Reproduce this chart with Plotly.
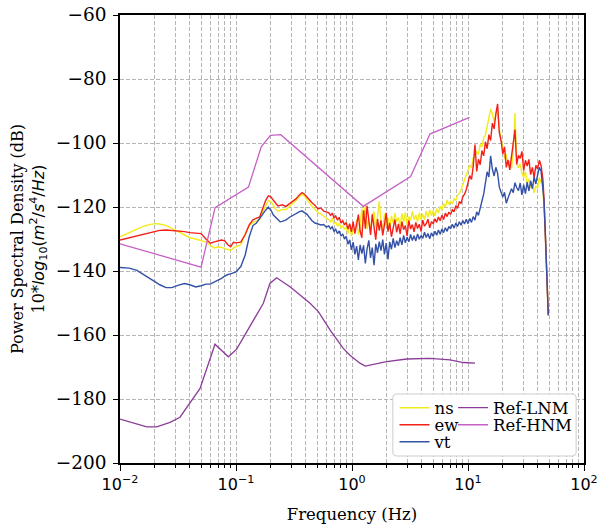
import plotly.graph_objects as go

# ---------------- data ----------------
freq_low = [0.01, 0.012, 0.014, 0.016, 0.018, 0.02, 0.022, 0.025, 0.028, 0.032,
            0.036, 0.04, 0.045, 0.05, 0.055, 0.06, 0.065, 0.07, 0.075, 0.08,
            0.085, 0.09, 0.095, 0.1, 0.11, 0.12, 0.13, 0.14, 0.15, 0.16,
            0.17, 0.18, 0.19, 0.2, 0.21, 0.22, 0.23, 0.24, 0.25, 0.27,
            0.29, 0.31, 0.33, 0.35, 0.37, 0.39, 0.41, 0.43, 0.45, 0.48,
            0.51, 0.54, 0.57, 0.6]

freq_high = [0.631, 0.653, 0.676, 0.700, 0.724, 0.750, 0.776, 0.804, 0.832, 0.861,
             0.891, 0.923, 0.955, 0.989, 1.023, 1.059, 1.096, 1.135, 1.175, 1.216,
             1.259, 1.303, 1.349, 1.396, 1.445, 1.496, 1.549, 1.603, 1.660, 1.718,
             1.778, 1.841, 1.905, 1.972, 2.042, 2.113, 2.188, 2.265, 2.344, 2.427,
             2.512, 2.600, 2.692, 2.786, 2.884, 2.985, 3.090, 3.199, 3.311, 3.428,
             3.548, 3.673, 3.802, 3.936, 4.074, 4.217, 4.365, 4.519, 4.677, 4.842,
             5.012, 5.188, 5.370, 5.559, 5.754, 5.957, 6.166, 6.383, 6.607, 6.839,
             7.079, 7.328, 7.586, 7.852, 8.128, 8.414, 8.710, 9.016, 9.333, 9.661,
             10.0, 10.35, 10.72, 11.09, 11.48, 11.89, 12.30, 12.74, 13.18, 13.65,
             14.13, 14.62, 15.14, 15.67, 16.22, 16.79, 17.38, 17.99, 18.62, 19.28,
             19.95, 20.65, 21.38, 22.13, 22.91, 23.71, 24.55, 25.41, 26.30, 27.23,
             28.18, 29.17, 30.20, 31.26, 32.36, 33.50, 34.67, 35.89, 37.15, 38.46,
             39.81, 41.21, 42.66, 43.5, 44.3, 45.2, 46.2, 47.3, 48.4, 49.2]

ns_low = [-129.3, -128.0, -126.8, -126.0, -125.5, -125.2, -125.3, -125.8, -126.7, -127.8,
          -128.8, -129.6, -130.0, -130.4, -131.0, -132.0, -132.8, -132.5, -132.6, -133.0,
          -133.4, -133.6, -132.8, -132.4, -131.8, -128.5, -125.8, -124.8, -124.5, -124.0,
          -121.5, -119.5, -118.0, -118.3, -119.5, -120.7, -121.3, -121.0, -120.8, -120.8,
          -119.8, -118.6, -118.0, -116.8, -116.0, -116.6, -117.8, -119.0, -119.8, -120.8,
          -121.8, -122.2, -123.0, -123.5]
ns_high = [-123.9, -124.6, -123.5, -125.3, -124.7, -126.0, -125.1, -126.6, -125.8, -127.0,
           -126.2, -128.3, -125.4, -129.1, -126.8, -127.9, -124.0, -128.6, -126.3, -120.5,
           -125.2, -119.0, -126.9, -123.7, -128.1, -122.6, -121.5, -126.4, -123.0, -118.2,
           -124.8, -127.3, -122.1, -125.9, -123.4, -127.0, -122.8, -125.1, -121.9, -124.6,
           -123.3, -126.1, -122.0, -124.8, -121.7, -125.6, -123.0, -124.2, -121.4, -123.9,
           -122.5, -124.6, -121.8, -123.9, -122.2, -124.0, -121.3, -123.2, -120.9, -122.7,
           -121.2, -122.8, -120.5, -121.9, -119.8, -121.0, -118.9, -120.1, -117.8, -119.2,
           -118.3, -119.0, -117.4, -117.9, -116.2, -115.8, -114.6, -113.1, -111.5, -110.2,
           -108.5, -106.9, -107.8, -104.6, -104.0, -102.5, -103.6, -100.4, -101.2, -98.5,
           -97.4, -94.6, -91.2, -89.4, -90.8, -93.5, -91.0, -90.2, -95.8, -99.0,
           -101.6, -104.9, -103.5, -107.2, -105.6, -108.0, -102.3, -90.6, -106.3, -107.7,
           -106.5, -109.4, -110.8, -108.9, -112.6, -111.2, -114.0, -112.8, -115.6, -113.4,
           -114.2, -110.8, -112.5, -111.0, -114.5, -119.0, -127.0, -136.0, -145.0, -153.8]

ew_low = [-130.3, -129.6, -129.0, -128.4, -127.9, -127.5, -127.3, -127.2, -127.3, -127.4,
          -127.7, -128.0, -128.1, -128.3, -130.0, -131.3, -130.9, -130.5, -130.3, -130.6,
          -131.8, -132.4, -131.0, -131.2, -131.0, -128.6, -125.6, -124.0, -123.6, -123.1,
          -120.5, -118.0, -116.5, -116.8, -117.9, -119.0, -119.7, -119.5, -119.3, -119.8,
          -119.0, -118.0, -117.4, -116.3, -115.5, -116.0, -117.0, -118.0, -118.6, -119.5,
          -120.6, -120.3, -121.3, -121.5]
ew_high = [-121.8, -122.6, -121.9, -123.4, -122.8, -124.1, -123.2, -125.0, -124.3, -125.6,
           -124.8, -126.9, -125.2, -127.8, -124.6, -128.3, -125.9, -122.4, -127.5, -129.6,
           -121.0, -126.8, -119.6, -124.9, -128.7, -122.3, -126.1, -130.2, -123.8, -127.4,
           -124.2, -128.9, -125.6, -121.8, -127.7, -125.0, -129.3, -126.2, -123.9, -127.9,
           -125.3, -128.4, -124.6, -127.1, -125.8, -129.0, -124.2, -126.9, -125.5, -127.8,
           -124.8, -126.7, -125.4, -127.6, -124.1, -126.0, -125.2, -123.8, -126.5, -124.6,
           -125.2, -123.7, -124.8, -123.1, -124.3, -122.6, -123.9, -121.9, -123.0, -121.6,
           -122.3, -120.9, -121.5, -119.6, -120.4, -118.3, -118.9, -116.8, -116.0, -114.6,
           -112.8, -110.2, -111.4, -107.3, -100.5, -108.9, -105.1, -106.8, -102.4, -104.0,
           -99.6, -101.8, -97.4, -99.2, -93.8, -95.6, -90.9, -87.8, -96.8, -99.3,
           -103.4, -101.2, -107.6, -105.3, -108.4, -103.8, -100.5, -95.8, -106.7, -103.9,
           -104.8, -102.6, -108.6, -105.4, -107.2, -105.1, -109.9, -107.6, -110.8, -107.0,
           -108.2, -105.4, -107.0, -108.7, -111.5, -117.5, -126.0, -135.0, -144.5, -153.8]

vt_low = [-138.9, -139.1, -139.8, -141.0, -142.3, -143.3, -144.3, -145.2, -145.2, -144.4,
          -143.9, -144.3, -145.0, -144.6, -144.1, -144.1, -143.5, -142.8, -142.3, -141.6,
          -141.1, -140.9, -140.7, -140.3, -138.6, -135.0, -129.3, -125.8, -125.0, -123.5,
          -122.3, -121.0, -120.0, -121.0, -122.5, -123.2, -124.0, -124.6, -124.5, -124.0,
          -123.2, -122.5, -122.0, -121.5, -121.2, -121.8, -122.3, -123.3, -124.2, -125.0,
          -125.3, -125.6, -125.5, -126.3]
vt_high = [-125.9, -126.8, -126.2, -127.6, -127.0, -128.3, -127.5, -129.1, -128.4, -130.0,
           -129.2, -131.6, -130.3, -133.4, -131.0, -134.8, -132.2, -136.5, -131.8, -134.6,
           -132.0, -137.6, -133.1, -130.4, -135.9, -132.7, -138.2, -131.5, -134.3, -130.8,
           -133.6, -130.2, -134.8, -131.3, -136.4, -130.9, -133.2, -129.8, -132.7, -130.5,
           -132.1, -129.6, -131.8, -128.9, -131.2, -129.4, -130.9, -128.6, -130.5, -129.0,
           -130.6, -128.4, -130.1, -128.9, -129.8, -127.9, -129.5, -128.3, -129.9, -128.1,
           -129.2, -127.6, -128.8, -127.2, -128.5, -126.9, -128.0, -126.5, -127.6, -126.1,
           -126.8, -125.4, -126.6, -125.0, -126.1, -124.6, -125.7, -124.2, -125.3, -123.8,
           -125.2, -123.6, -124.8, -123.0, -124.1, -121.5, -122.6, -119.8, -118.2, -116.0,
           -112.5, -109.0, -110.6, -104.0, -108.2, -110.3, -107.6, -109.4, -113.8, -115.2,
           -116.9, -115.4, -118.8, -117.2, -116.0, -114.3, -115.5, -112.4, -114.0, -114.9,
           -112.5, -116.2, -113.0, -115.8, -112.2, -115.0, -111.8, -114.3, -110.6, -112.8,
           -110.0, -107.6, -108.8, -111.5, -113.5, -118.0, -126.0, -135.0, -144.5, -153.8]

lnm_freq = [0.01, 0.0139, 0.017, 0.0207, 0.027, 0.0329, 0.0415, 0.049, 0.0659, 0.0859,
            0.101, 0.132, 0.172, 0.196, 0.224, 0.292, 0.435, 0.513, 0.646, 0.841,
            0.96, 1.17, 1.3, 1.99, 2.96, 4.7, 7.0, 9.1, 11.5]
lnm_db = [-186.3, -187.9, -188.7, -188.7, -187.3, -185.7, -180.3, -176.7, -162.9, -166.8,
          -164.5, -157.4, -150.1, -143.9, -142.1, -144.9, -150.1, -152.7, -158.4, -164.2,
          -166.3, -168.8, -169.7, -168.3, -167.5, -167.3, -167.8, -168.6, -168.8]

hnm_freq = [0.01, 0.05, 0.066, 0.128, 0.165, 0.198, 0.243, 1.25, 3.2, 4.7, 10.3]
hnm_db = [-131.5, -138.8, -120.2, -113.8, -101.2, -97.6, -97.4, -119.8, -110.5, -97.2, -92.0]

x_tickvals = [0.01, 0.1, 1, 10, 100]
x_ticktext = ["10<sup>−2</sup>", "10<sup>−1</sup>", "10<sup>0</sup>", "10<sup>1</sup>", "10<sup>2</sup>"]

freq = freq_low + freq_high
ns = ns_low + ns_high
ew = ew_low + ew_high
vt = vt_low + vt_high
n = min(len(freq), len(ns), len(ew), len(vt))

# ---------------- figure ----------------
fig = go.Figure()
fig.add_trace(go.Scatter(x=freq[:n], y=ns[:n], mode="lines", name="ns",
                         line=dict(color="#f3ec1c", width=1.4), legend="legend"))
fig.add_trace(go.Scatter(x=freq[:n], y=ew[:n], mode="lines", name="ew",
                         line=dict(color="#f42018", width=1.4), legend="legend2"))
fig.add_trace(go.Scatter(x=freq[:n], y=vt[:n], mode="lines", name="vt",
                         line=dict(color="#3451a8", width=1.4), legend="legend3"))
fig.add_trace(go.Scatter(x=lnm_freq, y=lnm_db, mode="lines", name="Ref-LNM",
                         line=dict(color="#8b3c99", width=1.3), legend="legend4"))
fig.add_trace(go.Scatter(x=hnm_freq, y=hnm_db, mode="lines", name="Ref-HNM",
                         line=dict(color="#c660c6", width=1.3), legend="legend5"))

minor_vals = [m * 10.0 ** e for e in range(-2, 2) for m in range(2, 10)]
grid = dict(showgrid=True, gridcolor="#b5b5b5", gridwidth=0.8, griddash="4px,2px")

fig.update_xaxes(type="log", range=[-2, 2], tickvals=x_tickvals, ticktext=x_ticktext,
                 ticks="outside", ticklen=6, tickwidth=1.2, tickcolor="black",
                 showline=True, linecolor="black", linewidth=1.5, mirror=True,
                 automargin=False,
                 tickfont=dict(family="DejaVu Sans", size=16, color="black"),
                 title=dict(text="Frequency (Hz)", font=dict(family="DejaVu Serif", size=16.5, color="black"),
                            standoff=15),
                 minor=dict(tickvals=minor_vals, ticks="outside", ticklen=3.5, tickwidth=1,
                            tickcolor="black", **grid),
                 zeroline=False, **grid)

fig.update_yaxes(range=[-200, -60], tick0=-200, dtick=20,
                 ticks="outside", ticklen=5, tickwidth=1.2, tickcolor="black",
                 showline=True, linecolor="black", linewidth=1.5, mirror=True,
                 automargin=False, ticklabelstandoff=3,
                 tickfont=dict(family="DejaVu Serif", size=18.5, color="black"),
                 title=dict(text="Power Spectral Density (dB)<br>10*<span style='font-family:DejaVu Sans'><i>log</i><sub>10</sub>(<i>m</i><sup>2</sup>/<i>s</i><sup>4</sup>/<i>Hz</i>)</span>",
                            font=dict(family="DejaVu Serif", size=16, color="black"), standoff=7),
                 zeroline=False, **grid)

# legend box (rounded)
x0, x1, y0, y1 = 0.588, 0.983, 0.0156, 0.154
rx, ry = 0.009, 0.009
path = (f"M {x0+rx},{y0} L {x1-rx},{y0} Q {x1},{y0} {x1},{y0+ry} L {x1},{y1-ry} "
        f"Q {x1},{y1} {x1-rx},{y1} L {x0+rx},{y1} Q {x0},{y1} {x0},{y1-ry} "
        f"L {x0},{y0+ry} Q {x0},{y0} {x0+rx},{y0} Z")
fig.add_shape(type="path", path=path, xref="paper", yref="paper",
              fillcolor="white", line=dict(color="#cccccc", width=1), layer="above")

leg_common = dict(bgcolor="rgba(0,0,0,0)", borderwidth=0,
                  font=dict(family="DejaVu Serif", size=16.5, color="black"),
                  xanchor="left", yanchor="middle")
col1, col2 = 0.5916, 0.7177
row1, row2, row3 = 0.1228, 0.0848, 0.0469
fig.update_layout(
    width=605, height=528,
    margin=dict(l=120, r=21, t=15, b=65),
    paper_bgcolor="white", plot_bgcolor="white",
    showlegend=True,
    legend=dict(x=col1, y=row1, **leg_common),
    legend2=dict(x=col1, y=row2, **leg_common),
    legend3=dict(x=col1, y=row3, **leg_common),
    legend4=dict(x=col2, y=row1, **leg_common),
    legend5=dict(x=col2, y=row2, **leg_common),
)

fig.write_html("out.html", config={"displayModeBar": False},
               post_script="document.body.style.margin='0px';document.body.style.overflow='hidden';")
